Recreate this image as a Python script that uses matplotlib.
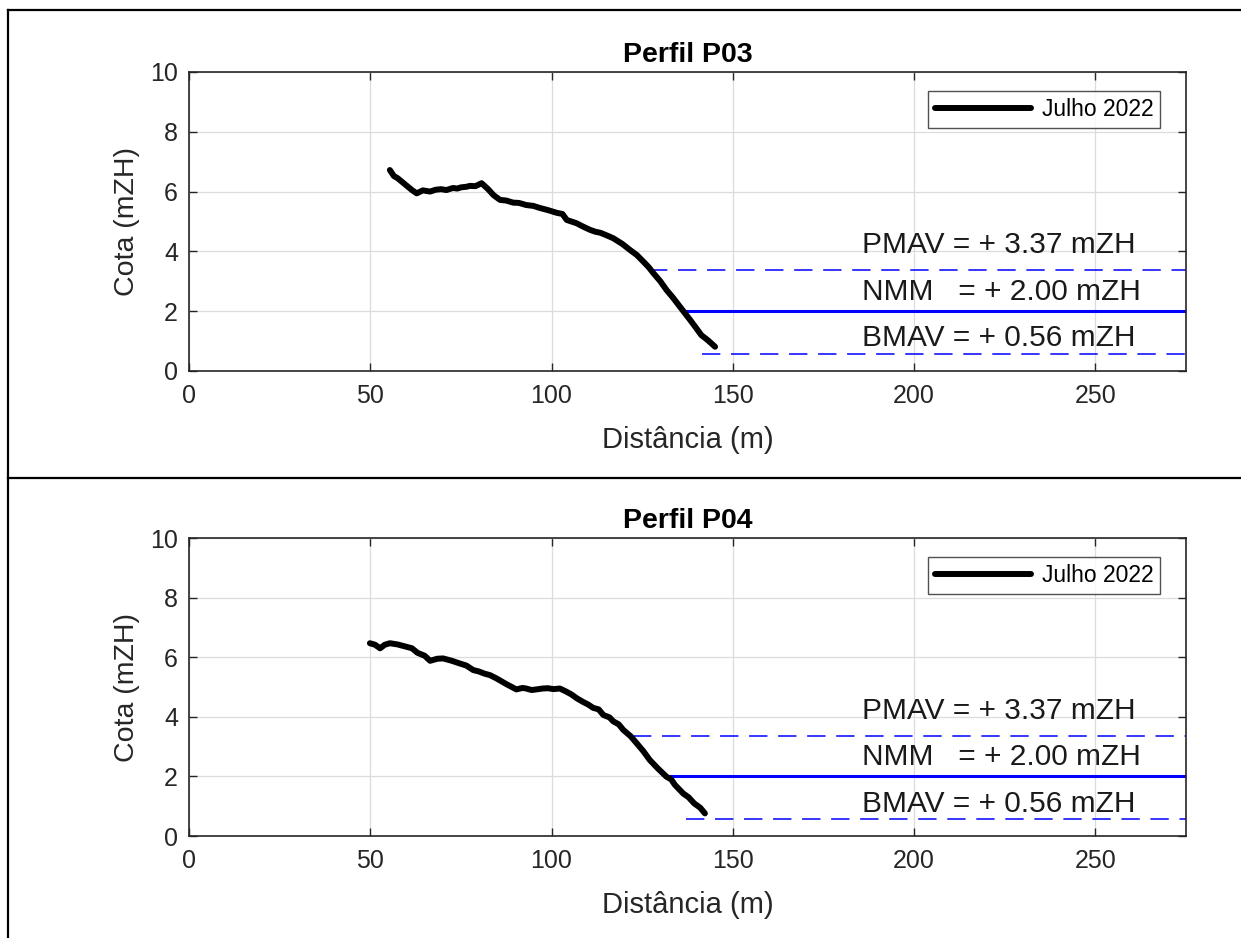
import matplotlib
matplotlib.use("Agg")
import matplotlib.pyplot as plt
from matplotlib.lines import Line2D

plt.rcParams['font.family'] = ['Liberation Sans', 'DejaVu Sans']

# perfil P03 (Julho 2022)
p03_dist = [55.4, 56.5, 57.5, 59.0, 60.0, 61.5, 62.8, 64.5, 66.5, 68.0, 69.5, 71.0,
            72.8, 74.0, 75.0, 76.5, 77.5, 79.0, 80.7, 82.5, 84.0, 85.8, 87.5, 89.4,
            91.0, 93.0, 95.0, 96.8, 99.0, 101.4, 103.0, 104.2, 106.9, 108.5, 110.6,
            112.0, 113.5, 115.5, 117.0, 119.5, 121.6, 123.5, 125.3, 126.8, 128.1,
            130.0, 131.7, 133.5, 135.4, 136.8, 138.2, 139.8, 141.3, 143.2, 145.1]
p03_cota = [6.72, 6.52, 6.45, 6.30, 6.20, 6.05, 5.94, 6.04, 6.00, 6.06, 6.08, 6.05,
            6.12, 6.10, 6.14, 6.16, 6.19, 6.18, 6.28, 6.08, 5.88, 5.72, 5.70, 5.63,
            5.62, 5.55, 5.52, 5.45, 5.38, 5.29, 5.25, 5.05, 4.94, 4.84, 4.72,
            4.66, 4.62, 4.52, 4.44, 4.25, 4.05, 3.88, 3.66, 3.47, 3.27,
            3.00, 2.71, 2.45, 2.15, 1.93, 1.71, 1.45, 1.20, 1.02, 0.81]

# perfil P04 (Julho 2022)
p04_dist = [49.9, 51.3, 52.7, 54.0, 55.4, 57.5, 60.0, 61.5, 63.0, 65.0, 66.5, 68.5,
            70.1, 72.5, 74.7, 76.5, 78.4, 80.0, 81.5, 83.0, 84.8, 87.5, 90.3, 92.0,
            93.0, 94.5, 95.8, 97.5, 99.0, 100.5, 102.3, 104.0, 105.5, 107.0, 108.7,
            110.0, 111.5, 113.0, 114.3, 116.0, 117.0, 118.5, 119.8, 121.8, 123.5,
            125.3, 127.1, 129.3, 131.7, 133.0, 134.0, 136.3, 137.8, 139.3, 141.0, 142.3]
p04_cota = [6.47, 6.42, 6.30, 6.42, 6.47, 6.43, 6.35, 6.30, 6.15, 6.05, 5.88, 5.95,
            5.96, 5.88, 5.79, 5.72, 5.57, 5.52, 5.45, 5.40, 5.29, 5.10, 4.92, 4.97,
            4.95, 4.90, 4.92, 4.95, 4.96, 4.93, 4.95, 4.85, 4.75, 4.62, 4.50,
            4.42, 4.30, 4.25, 4.06, 3.98, 3.85, 3.75, 3.56, 3.35, 3.11,
            2.85, 2.55, 2.27, 1.99, 1.90, 1.72, 1.43, 1.30, 1.10, 0.95, 0.76]

perfis = ["Perfil P03", "Perfil P04"]
legenda = "Julho 2022"

# niveis de maré
pmav, nmm, bmav = 3.37, 2.00, 0.56
niveis_txt = ["PMAV = + 3.37 mZH", "NMM   = + 2.00 mZH", "BMAV = + 0.56 mZH"]
# inicio das linhas de nivel em cada perfil
inicio_p03 = [126.9, 137.3, 141.5]
inicio_p04 = [122.4, 132.4, 137.0]

fig = plt.figure(figsize=(12.41, 9.38), dpi=100)

# moldura tipo tabela
fig.add_artist(Line2D([0.0064, 0.0064], [0.0, 0.9893], color='black', lw=1.6))
fig.add_artist(Line2D([0.0064, 1.0], [0.9893, 0.9893], color='black', lw=1.6))
fig.add_artist(Line2D([0.0064, 1.0], [0.4904, 0.4904], color='black', lw=1.6))

eixos = [fig.add_axes([0.1523, 0.6045, 0.8034, 0.3188]),
         fig.add_axes([0.1523, 0.1087, 0.8034, 0.3177])]
dados = [(p03_dist, p03_cota, inicio_p03), (p04_dist, p04_cota, inicio_p04)]

cinza = '#262626'
tracejado = (0, (12, 7))
for ax, titulo, (dist, cota, ini) in zip(eixos, perfis, dados):
    ax.plot(dist, cota, color='black', lw=4.3, solid_capstyle='round',
            solid_joinstyle='round', label=legenda, zorder=5)
    ax.plot([ini[0], 275], [pmav, pmav], color='blue', lw=1.1, ls=tracejado)
    ax.plot([ini[1], 275], [nmm, nmm], color='blue', lw=2.2)
    ax.plot([ini[2], 275], [bmav, bmav], color='blue', lw=1.1, ls=tracejado)

    ax.text(185.6, 4.20, niveis_txt[0], fontsize=21.5, color='#1a1a1a', va='center')
    ax.text(185.6, 2.64, niveis_txt[1], fontsize=21.5, color='#1a1a1a', va='center')
    ax.text(185.6, 1.09, niveis_txt[2], fontsize=21.5, color='#1a1a1a', va='center')

    ax.set_xlim(0, 275)
    ax.set_ylim(0, 10)
    ax.set_xticks([0, 50, 100, 150, 200, 250])
    ax.set_yticks([0, 2, 4, 6, 8, 10])
    ax.grid(True, color='#dcdcdc', lw=0.9)
    ax.set_axisbelow(True)
    for s in ax.spines.values():
        s.set_color(cinza)
        s.set_linewidth(1.2)
    ax.tick_params(direction='in', length=6, width=1.0, colors=cinza,
                   labelsize=18, labelcolor=cinza, top=True, right=True)
    ax.tick_params(axis='x', pad=9.5)
    ax.tick_params(axis='y', pad=8)
    ax.set_title(titulo, fontsize=20.5, fontweight='bold', color='black', pad=7)
    ax.set_xlabel("Distância (m)", fontsize=21, color=cinza, va='center')
    ax.set_ylabel("Cota (mZH)", fontsize=20.5, color=cinza, va='center')
    ax.xaxis.set_label_coords(0.5, -0.231)
    ax.yaxis.set_label_coords(-0.062, 0.5)

    leg = ax.legend(loc='upper right', fontsize=16.5, frameon=True, fancybox=False,
                    handlelength=4.2, handletextpad=0.45, borderpad=0.3,
                    borderaxespad=0, bbox_to_anchor=(0.974, 0.936))
    leg.get_frame().set_edgecolor(cinza)
    leg.get_frame().set_linewidth(1.0)

fig.savefig("out.png", dpi=100)
